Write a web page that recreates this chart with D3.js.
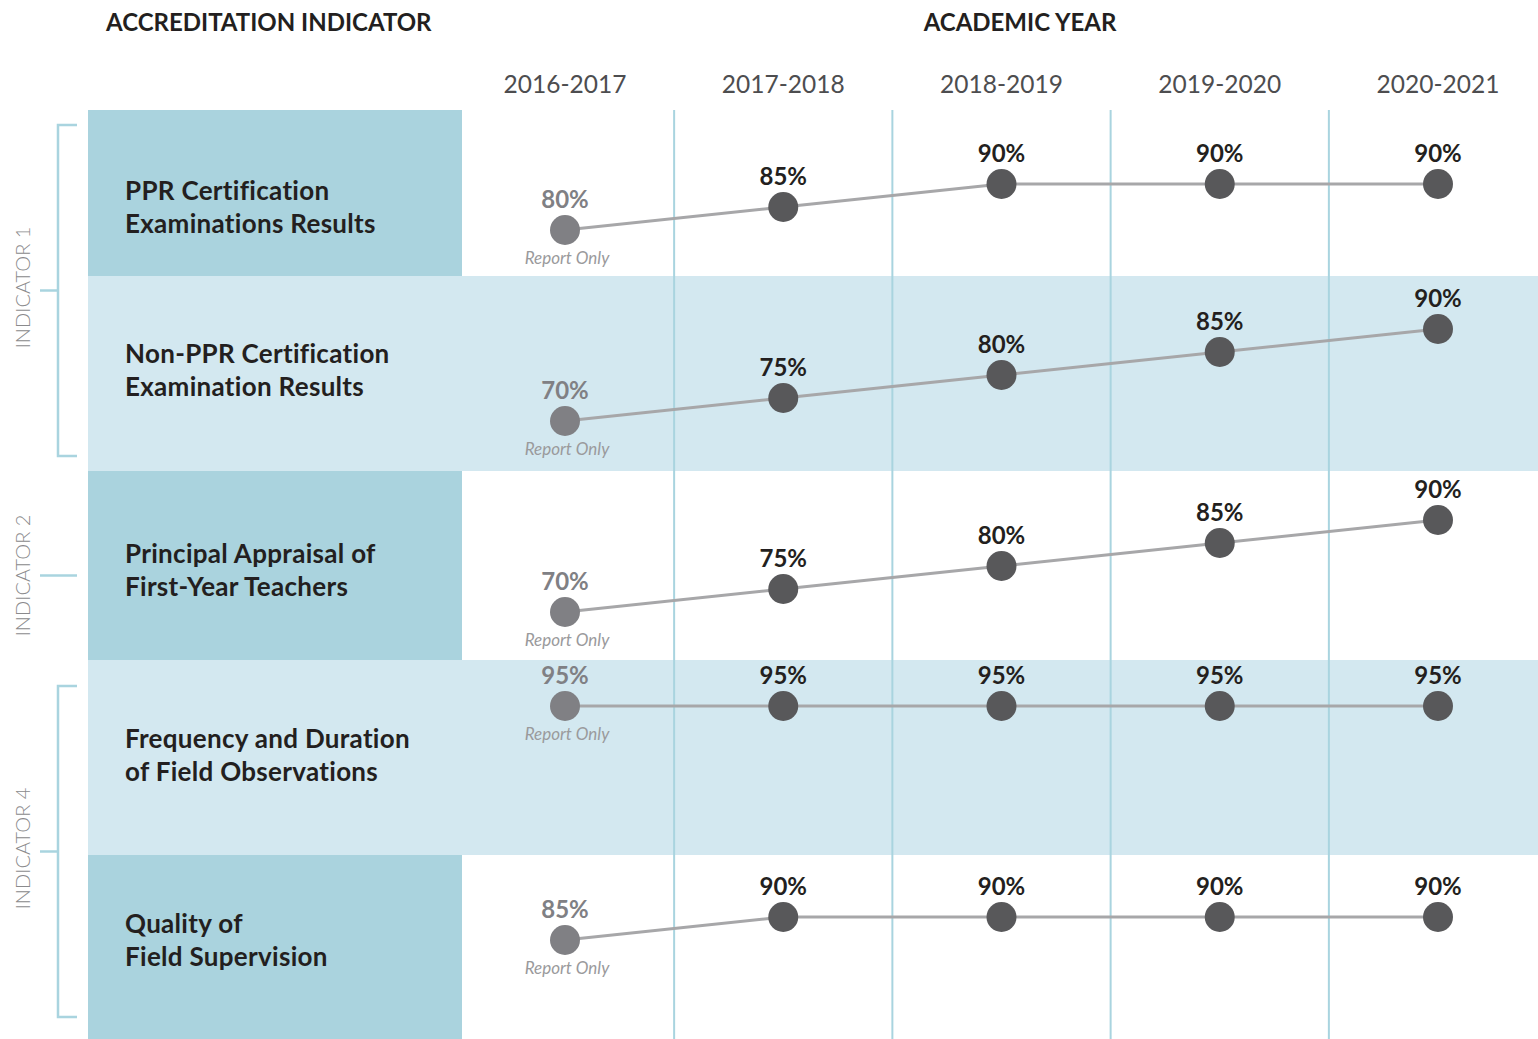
<!DOCTYPE html>
<html>
<head>
<meta charset="utf-8">
<script src="https://cdn.jsdelivr.net/npm/d3@7"></script>
<style>
  body { margin: 0; background: #fff; }
  svg { display: block; font-family: Lato, "Open Sans", sans-serif; }
</style>
</head>
<body>
<div id="chart"></div>
<script>
// data
const years = ["2016-2017", "2017-2018", "2018-2019", "2019-2020", "2020-2021"];
const indicatorNames = [
  ["PPR Certification", "Examinations Results"],
  ["Non-PPR Certification", "Examination Results"],
  ["Principal Appraisal of", "First-Year Teachers"],
  ["Frequency and Duration", "of Field Observations"],
  ["Quality of", "Field Supervision"]
];
const pprValues = [80, 85, 90, 90, 90];
const nonPprValues = [70, 75, 80, 85, 90];
const principalValues = [70, 75, 80, 85, 90];
const frequencyValues = [95, 95, 95, 95, 95];
const qualityValues = [85, 90, 90, 90, 90];
const seriesValues = [pprValues, nonPprValues, principalValues, frequencyValues, qualityValues];
const groups = [
  { name: "INDICATOR 1", first: 0, last: 1 },
  { name: "INDICATOR 2", first: 2, last: 2 },
  { name: "INDICATOR 4", first: 3, last: 4 }
];

const width = 1538;
const height = 1039;

// layout
const rowEdges = [110, 276, 471, 660, 855, 1039];
const labelCenters = [207, 370, 570, 755, 940];
const anchor90 = [184, 329, 520, 729, 917]; // y of 90% in each row
const pxPerPoint = 4.6;
const bracketSpans = [[125, 456], null, [686, 1017]];

const darkBlue = "#aad3de";
const lightBlue = "#d3e8f0";
const lineBlue = "#a9d4df";

const svg = d3.select("#chart")
  .append("svg")
  .attr("width", width)
  .attr("height", height)
  .attr("viewBox", `0 0 ${width} ${height}`);

const xScale = d3.scalePoint()
  .domain(years)
  .range([565, 1438]);
const step = xScale.step();

// row backgrounds
const rows = svg.append("g");
indicatorNames.forEach((name, i) => {
  const y0 = rowEdges[i], y1 = rowEdges[i + 1];
  if (i % 2 === 1) {
    rows.append("rect")
      .attr("x", 88).attr("y", y0)
      .attr("width", width - 88).attr("height", y1 - y0)
      .attr("fill", lightBlue);
  } else {
    rows.append("rect")
      .attr("x", 88).attr("y", y0)
      .attr("width", 462 - 88).attr("height", y1 - y0)
      .attr("fill", darkBlue);
  }
  const t = rows.append("text")
    .attr("x", 125)
    .attr("font-size", "26px")
    .attr("font-weight", 700)
    .attr("letter-spacing", "0.3px")
    .attr("fill", "#231f20");
  t.append("tspan").attr("x", 125).attr("y", labelCenters[i] - 7).text(name[0]);
  t.append("tspan").attr("x", 125).attr("y", labelCenters[i] + 26).text(name[1]);
});

// column separators
svg.append("g")
  .selectAll("line")
  .data(years.slice(1))
  .join("line")
  .attr("x1", d => xScale(d) - step / 2)
  .attr("x2", d => xScale(d) - step / 2)
  .attr("y1", rowEdges[0])
  .attr("y2", height)
  .attr("stroke", lineBlue)
  .attr("stroke-width", 2);

// headers
svg.append("text")
  .attr("x", 106).attr("y", 31)
  .attr("font-size", "24px").attr("font-weight", 700)
  .attr("fill", "#231f20")
  .text("ACCREDITATION INDICATOR");

svg.append("text")
  .attr("x", 1020).attr("y", 31)
  .attr("text-anchor", "middle")
  .attr("font-size", "24px").attr("font-weight", 700)
  .attr("fill", "#231f20")
  .text("ACADEMIC YEAR");

svg.append("g")
  .selectAll("text")
  .data(years)
  .join("text")
  .attr("x", d => xScale(d))
  .attr("y", 93)
  .attr("text-anchor", "middle")
  .attr("font-size", "24.5px")
  .attr("fill", "#4d4d4f")
  .text(d => d);

// indicator brackets
const brackets = svg.append("g")
  .attr("stroke", lineBlue)
  .attr("stroke-width", 2.5)
  .attr("fill", "none");
groups.forEach((g, gi) => {
  let cy;
  if (g.first === g.last) {
    cy = (rowEdges[g.first] + rowEdges[g.last + 1]) / 2 + 10;
    brackets.append("line")
      .attr("x1", 40).attr("x2", 77)
      .attr("y1", cy).attr("y2", cy);
  } else {
    const [top, bottom] = bracketSpans[gi];
    cy = (top + bottom) / 2;
    brackets.append("path")
      .attr("d", `M77,${top}H58V${bottom}H77`);
    brackets.append("line")
      .attr("x1", 40).attr("x2", 58)
      .attr("y1", cy).attr("y2", cy);
    cy -= 3;
  }
  svg.append("text")
    .attr("transform", `translate(30, ${cy}) rotate(-90)`)
    .attr("text-anchor", "middle")
    .attr("font-size", "20px")
    .attr("font-weight", 300)
    .attr("fill", "#8a8a8c")
    .text(g.name);
});

// series lines and points
const marks = svg.append("g");
seriesValues.forEach((vals, i) => {
  const yScale = d3.scaleLinear()
    .domain([90, 100])
    .range([anchor90[i], anchor90[i] - 10 * pxPerPoint]);
  const pts = vals.map((v, j) => ({ year: years[j], value: v, first: j === 0 }));

  marks.append("path")
    .datum(pts)
    .attr("fill", "none")
    .attr("stroke", "#a7a7a9")
    .attr("stroke-width", 3)
    .attr("d", d3.line().x(d => xScale(d.year)).y(d => yScale(d.value)));

  const g = marks.append("g");
  g.selectAll("circle")
    .data(pts)
    .join("circle")
    .attr("cx", d => xScale(d.year))
    .attr("cy", d => yScale(d.value))
    .attr("r", 15)
    .attr("fill", d => d.first ? "#808084" : "#58585a");

  g.selectAll(".val")
    .data(pts)
    .join("text")
    .attr("class", "val")
    .attr("x", d => xScale(d.year))
    .attr("y", d => yScale(d.value) - 22)
    .attr("text-anchor", "middle")
    .attr("font-size", "24px")
    .attr("font-weight", 700)
    .attr("fill", d => d.first ? "#808084" : "#231f20")
    .text(d => d.value + "%");

  g.append("text")
    .attr("x", xScale(years[0]) + 2)
    .attr("y", yScale(vals[0]) + 34)
    .attr("text-anchor", "middle")
    .attr("font-size", "17px")
    .attr("font-style", "italic")
    .attr("fill", "#9a9a9c")
    .text("Report Only");
});
</script>
</body>
</html>
